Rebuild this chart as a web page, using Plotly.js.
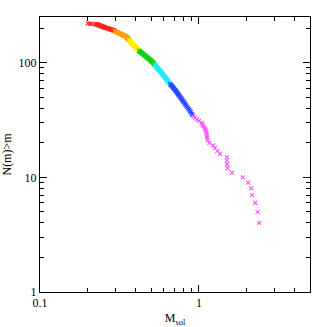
<!DOCTYPE html>
<html>
<head>
<meta charset="utf-8">
<script src="https://cdn.plot.ly/plotly-3.0.1.min.js"></script>
<style>
  html, body { margin: 0; padding: 0; background: white; }
  #chart { width: 327px; height: 327px; }
</style>
</head>
<body>
<div id="chart"></div>
<script>
// stellar masses (M_sol), ascending, split into the seven colour bins
const massRed = [0.200, 0.206, 0.212, 0.222, 0.225, 0.228, 0.232, 0.233, 0.235, 0.237, 0.239,
    0.241, 0.244, 0.245, 0.248, 0.250, 0.253, 0.255, 0.256, 0.260, 0.263, 0.267, 0.269, 0.273,
    0.276, 0.280, 0.282, 0.285, 0.289, 0.290, 0.293];
const massOrange = [0.295, 0.297, 0.300, 0.301, 0.304, 0.307, 0.309, 0.311, 0.314, 0.317, 0.319,
    0.321, 0.324, 0.327, 0.330, 0.333, 0.336, 0.338, 0.341, 0.344, 0.347, 0.349, 0.350, 0.352,
    0.353, 0.355, 0.356, 0.358, 0.359, 0.361, 0.362];
const massYellow = [0.364, 0.365, 0.367, 0.368, 0.369, 0.370, 0.372, 0.373, 0.374, 0.376, 0.377,
    0.378, 0.380, 0.382, 0.384, 0.386, 0.388, 0.390, 0.392, 0.394, 0.396, 0.398, 0.400, 0.402,
    0.404, 0.406, 0.409, 0.411, 0.414, 0.415, 0.418];
const massGreen = [0.420, 0.423, 0.425, 0.428, 0.431, 0.434, 0.437, 0.441, 0.444, 0.448, 0.451,
    0.454, 0.458, 0.462, 0.465, 0.469, 0.473, 0.477, 0.481, 0.485, 0.488, 0.493, 0.496, 0.499,
    0.503, 0.506, 0.510, 0.514, 0.517, 0.520, 0.523];
const massCyan = [0.527, 0.530, 0.534, 0.537, 0.540, 0.544, 0.547, 0.551, 0.555, 0.559, 0.562,
    0.566, 0.571, 0.575, 0.579, 0.583, 0.587, 0.592, 0.596, 0.601, 0.605, 0.610, 0.615, 0.619,
    0.624, 0.629, 0.634, 0.639, 0.644, 0.650, 0.655];
const massBlue = [0.660, 0.667, 0.673, 0.679, 0.686, 0.693, 0.699, 0.707, 0.714, 0.720, 0.726,
    0.734, 0.741, 0.748, 0.755, 0.764, 0.772, 0.780, 0.787, 0.797, 0.806, 0.815, 0.825, 0.834,
    0.845, 0.856, 0.866, 0.879, 0.888, 0.900, 0.910];
const massMagenta = [0.923, 0.944, 0.971, 1.000, 1.037, 1.052, 1.067, 1.083, 1.096, 1.107, 1.115,
    1.123, 1.128, 1.136, 1.164, 1.225, 1.260, 1.307, 1.355, 1.500, 1.500, 1.505, 1.515, 1.613,
    1.891, 2.040, 2.135, 2.160, 2.260, 2.340, 2.395];

// stars more massive than the last plotted one
const nHeavier = 3;

const bins = [
    { mass: massRed, color: '#ff2020' },
    { mass: massOrange, color: '#ffa000' },
    { mass: massYellow, color: '#ffee00' },
    { mass: massGreen, color: '#10d010' },
    { mass: massCyan, color: '#20e8ff' },
    { mass: massBlue, color: '#2040ff' },
    { mass: massMagenta, color: '#ff50ff' }
];

const xTicks = [0.1, 1];
const xTickText = ['0.1', '1'];
const xMinor = [0.2, 0.3, 0.4, 0.5, 0.6, 0.7, 0.8, 0.9, 2, 3, 4];
const yTicks = [1, 10, 100];
const yTickText = ['1', '10', '100'];
const yMinor = [2, 3, 4, 5, 6, 7, 8, 9, 20, 30, 40, 50, 60, 70, 80, 90, 200];

// cumulative count N(>=m) from the ranked masses
const total = bins.reduce((s, b) => s + b.mass.length, 0);
let rank = 0;
const traces = bins.map(b => {
    const n = b.mass.map(() => total - (rank++) + nHeavier);
    return {
        x: b.mass,
        y: n,
        type: 'scatter',
        mode: 'markers',
        marker: {
            symbol: 'x-thin',
            size: 4,
            color: b.color,
            line: { color: b.color, width: 1.1 }
        },
        hoverinfo: 'x+y'
    };
});

const font = { family: 'Liberation Serif, Times New Roman, serif', size: 12, color: '#000' };

const axisBase = {
    type: 'log',
    showgrid: false,
    zeroline: false,
    showline: true,
    linecolor: '#000',
    linewidth: 1,
    mirror: 'allticks',
    ticks: 'inside',
    ticklen: 7,
    tickcolor: '#000',
    tickwidth: 1,
    tickmode: 'array',
    tickfont: font
};

const layout = {
    width: 327,
    height: 327,
    margin: { l: 40, r: 17, t: 17, b: 35 },
    paper_bgcolor: 'white',
    plot_bgcolor: 'white',
    showlegend: false,
    font: font,
    xaxis: Object.assign({}, axisBase, {
        range: [-1, Math.log10(5)],
        tickvals: xTicks,
        ticktext: xTickText,
        minor: { tickmode: 'array', tickvals: xMinor, ticks: 'inside', ticklen: 4, tickcolor: '#000' },
        title: { text: 'M<sub>sol</sub>', font: font, standoff: 8 }
    }),
    yaxis: Object.assign({}, axisBase, {
        range: [0, Math.log10(250)],
        tickvals: yTicks,
        ticktext: yTickText,
        minor: { tickmode: 'array', tickvals: yMinor, ticks: 'inside', ticklen: 4, tickcolor: '#000' },
        title: { text: 'N(m)>m', font: font, standoff: 6 }
    })
};

Plotly.newPlot('chart', traces, layout, { displayModeBar: false, staticPlot: true });
</script>
</body>
</html>
